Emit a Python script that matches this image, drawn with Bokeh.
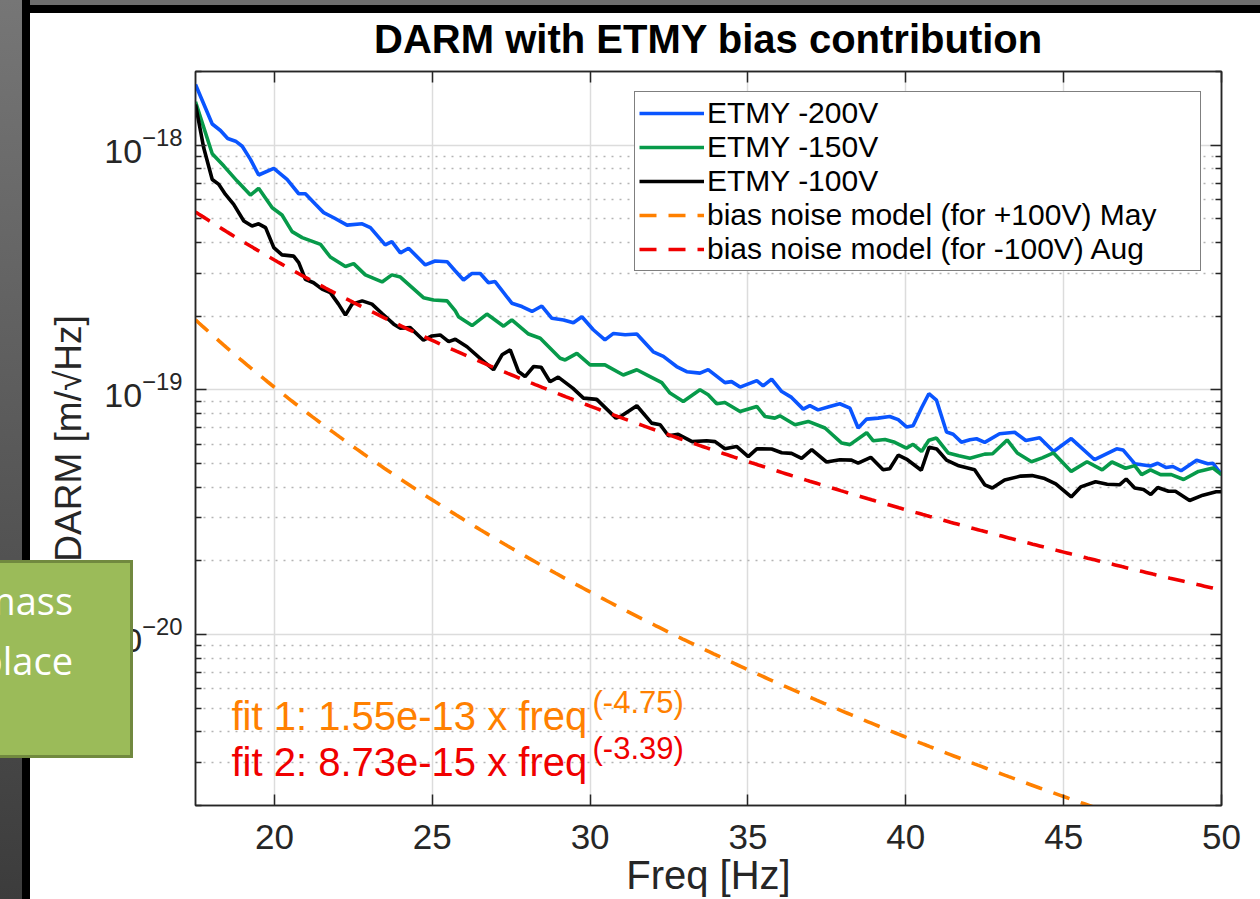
import numpy as np
from bokeh.plotting import figure
from bokeh.layouts import column
from bokeh.models import (Range1d, LinearAxis, LogAxis, FixedTicker, Legend,
                          LegendItem, Label, Div)
from bokeh.embed import file_html
from bokeh.resources import INLINE

# ---------------- data ----------------
TITLE = "DARM with ETMY bias contribution"
X_LABEL = "Freq [Hz]"
Y_LABEL = "DARM [m/\u221aHz]"
X_TICKS = [20, 25, 30, 35, 40, 45, 50]
Y_TICKS = [1e-20, 1e-19, 1e-18]

SERIES_NAMES = ["ETMY -200V", "ETMY -150V", "ETMY -100V",
                "bias noise model (for +100V) May",
                "bias noise model (for -100V) Aug"]

BLUE_F = [17.50, 18.03, 18.29, 18.52, 18.77, 18.98, 19.24, 19.50, 19.98, 20.40,
          20.77, 20.98, 21.30, 21.56, 21.88, 22.30, 22.78, 23.04, 23.51, 23.72,
          23.99, 24.25, 24.78, 25.09, 25.47, 25.73, 25.99, 26.26, 26.52, 26.78,
          26.99, 27.52, 27.84, 28.16, 28.47, 28.79, 29.16, 29.47, 29.74, 30.10,
          30.47, 30.74, 31.11, 31.48, 32.00, 32.32, 32.74, 33.06, 33.48, 33.74,
          34.27, 34.48, 34.75, 35.28, 35.48, 35.75, 36.07, 36.38, 36.75, 36.96,
          37.22, 37.59, 37.91, 38.23, 38.49, 38.76, 39.12, 39.49, 39.76, 40.02,
          40.23, 40.50, 40.73, 40.97, 41.29, 41.50, 41.76, 42.03, 42.24, 42.50,
          42.97, 43.45, 43.80, 44.24, 44.68, 45.24, 45.98, 46.68, 46.88, 47.25,
          47.75, 47.98, 48.25, 48.46, 48.72, 49.21, 49.57, 49.73, 50.00]
BLUE_V = [1.77e-18, 1.22e-18, 1.148e-18, 1.064e-18, 1.038e-18, 9.9e-19, 8.75e-19, 7.55e-19, 8.03e-19, 7.24e-19,
          6.33e-19, 6.33e-19, 5.73e-19, 5.30e-19, 5.05e-19, 4.71e-19, 4.77e-19, 4.60e-19, 3.91e-19, 4.03e-19,
          3.63e-19, 3.79e-19, 3.24e-19, 3.36e-19, 3.34e-19, 3.06e-19, 2.81e-19, 2.99e-19, 2.99e-19, 2.74e-19,
          2.77e-19, 2.26e-19, 2.19e-19, 2.09e-19, 2.20e-19, 1.96e-19, 1.93e-19, 1.88e-19, 1.99e-19, 1.76e-19,
          1.60e-19, 1.70e-19, 1.68e-19, 1.69e-19, 1.43e-19, 1.37e-19, 1.245e-19, 1.186e-19, 1.17e-19, 1.21e-19,
          1.07e-19, 1.08e-19, 1.026e-19, 1.09e-19, 1.038e-19, 1.106e-19, 9.84e-20, 9.31e-20, 8.34e-20, 8.61e-20,
          8.28e-20, 8.55e-20, 8.77e-20, 8.42e-20, 6.98e-20, 7.59e-20, 7.66e-20, 7.78e-20, 7.55e-20, 7.05e-20,
          7.13e-20, 8.45e-20, 9.64e-20, 9.08e-20, 6.72e-20, 6.58e-20, 6.11e-20, 6.25e-20, 6.31e-20, 6.10e-20,
          6.61e-20, 6.71e-20, 6.21e-20, 6.37e-20, 5.60e-20, 6.32e-20, 5.18e-20, 5.74e-20, 5.68e-20, 4.99e-20,
          4.88e-20, 5.01e-20, 4.81e-20, 4.86e-20, 4.67e-20, 5.15e-20, 4.99e-20, 5.01e-20, 4.50e-20]

GREEN_F = [17.50, 18.03, 18.40, 18.82, 19.24, 19.50, 19.93, 20.24, 20.56, 20.88,
           21.46, 21.77, 22.25, 22.51, 22.88, 23.41, 23.72, 23.99, 24.72, 25.04,
           25.47, 25.73, 25.83, 26.26, 26.73, 27.26, 27.52, 28.05, 28.42, 29.05,
           29.21, 29.58, 30.00, 30.47, 31.05, 31.48, 31.90, 32.27, 32.53, 32.95,
           33.48, 33.74, 34.01, 34.27, 34.75, 35.28, 35.54, 35.85, 36.01, 36.49,
           36.91, 37.44, 37.97, 38.23, 38.76, 38.97, 39.34, 39.65, 40.02, 40.23,
           40.50, 40.73, 40.97, 41.34, 41.68, 42.03, 42.50, 42.75, 43.21, 43.53,
           43.98, 44.32, 44.68, 45.24, 45.74, 46.22, 46.53, 46.96, 47.25, 47.47,
           47.75, 48.07, 48.41, 48.80, 49.27, 49.73, 50.00]
GREEN_V = [1.503e-18, 9.22e-19, 8.21e-19, 7.13e-19, 6.25e-19, 6.66e-19, 5.55e-19, 5.18e-19, 4.43e-19, 4.19e-19,
           3.93e-19, 3.49e-19, 3.19e-19, 3.28e-19, 2.95e-19, 2.76e-19, 2.95e-19, 2.89e-19, 2.38e-19, 2.33e-19,
           2.31e-19, 2.10e-19, 1.99e-19, 1.83e-19, 2.04e-19, 1.82e-19, 1.93e-19, 1.69e-19, 1.625e-19, 1.346e-19,
           1.325e-19, 1.41e-19, 1.265e-19, 1.265e-19, 1.15e-19, 1.208e-19, 1.133e-19, 1.07e-19, 9.70e-20, 8.96e-20,
           1.00e-19, 9.55e-20, 8.77e-20, 8.87e-20, 8.15e-20, 8.55e-20, 7.78e-20, 7.66e-20, 7.83e-20, 7.20e-20,
           7.43e-20, 6.98e-20, 6.06e-20, 5.97e-20, 6.68e-20, 6.19e-20, 6.27e-20, 6.10e-20, 5.78e-20, 5.99e-20,
           5.60e-20, 6.22e-20, 6.35e-20, 5.52e-20, 5.38e-20, 5.25e-20, 5.46e-20, 5.48e-20, 6.24e-20, 5.52e-20,
           5.08e-20, 5.27e-20, 5.52e-20, 4.64e-20, 5.08e-20, 4.71e-20, 5.07e-20, 4.78e-20, 4.90e-20, 4.50e-20,
           4.71e-20, 4.50e-20, 4.50e-20, 4.30e-20, 4.64e-20, 4.79e-20, 4.50e-20]

BLACK_F = [17.50, 17.76, 18.03, 18.24, 18.45, 18.71, 19.03, 19.29, 19.50, 19.72,
           19.98, 20.24, 20.61, 20.77, 20.98, 21.24, 21.51, 21.77, 22.03, 22.25,
           22.46, 22.78, 23.09, 23.41, 23.78, 23.99, 24.30, 24.72, 24.99, 25.25,
           25.52, 25.73, 26.10, 26.57, 26.94, 27.21, 27.47, 27.73, 27.94, 28.21,
           28.45, 28.73, 28.99, 29.45, 29.79, 30.21, 30.82, 31.00, 31.48, 31.95,
           32.22, 32.48, 32.79, 33.23, 33.69, 33.96, 34.27, 34.64, 35.01, 35.28,
           35.75, 36.07, 36.38, 36.70, 37.02, 37.49, 37.91, 38.28, 38.49, 38.89,
           39.28, 39.49, 39.76, 40.05, 40.49, 40.74, 40.98, 41.29, 41.68, 42.18,
           42.50, 42.74, 43.13, 43.64, 44.00, 44.40, 44.75, 45.24, 45.54, 46.01,
           46.38, 46.77, 46.98, 47.25, 47.53, 47.76, 47.98, 48.32, 48.54, 48.99,
           49.41, 49.83, 50.00]
BLACK_V = [1.466e-18, 9.75e-19, 7.24e-19, 6.91e-19, 6.29e-19, 5.73e-19, 4.90e-19, 4.67e-19, 4.77e-19, 4.60e-19,
           3.81e-19, 3.56e-19, 3.52e-19, 3.31e-19, 2.83e-19, 2.74e-19, 2.58e-19, 2.495e-19, 2.24e-19, 2.02e-19,
           2.24e-19, 2.31e-19, 2.24e-19, 2.05e-19, 1.855e-19, 1.786e-19, 1.795e-19, 1.595e-19, 1.66e-19, 1.676e-19,
           1.574e-19, 1.61e-19, 1.50e-19, 1.325e-19, 1.208e-19, 1.39e-19, 1.456e-19, 1.188e-19, 1.133e-19, 1.245e-19,
           1.236e-19, 1.079e-19, 1.127e-19, 1.016e-19, 9.25e-20, 9.14e-20, 7.66e-20, 7.83e-20, 8.61e-20, 7.31e-20,
           7.20e-20, 6.49e-20, 6.58e-20, 6.14e-20, 6.19e-20, 6.14e-20, 5.74e-20, 5.87e-20, 5.33e-20, 5.74e-20,
           5.73e-20, 5.53e-20, 5.50e-20, 5.25e-20, 5.69e-20, 5.07e-20, 5.18e-20, 5.16e-20, 5.02e-20, 5.30e-20,
           4.71e-20, 4.76e-20, 5.41e-20, 5.18e-20, 4.69e-20, 5.83e-20, 5.73e-20, 5.16e-20, 4.89e-20, 4.71e-20,
           4.09e-20, 3.97e-20, 4.28e-20, 4.44e-20, 4.46e-20, 4.34e-20, 4.13e-20, 3.65e-20, 4.01e-20, 4.21e-20,
           4.11e-20, 4.09e-20, 4.32e-20, 3.97e-20, 3.91e-20, 3.73e-20, 3.99e-20, 3.85e-20, 3.85e-20, 3.53e-20,
           3.71e-20, 3.83e-20, 3.83e-20]

# fit models exactly as printed on the chart: coef * freq**exponent
FIT1_COEF, FIT1_EXP = 1.55e-13, -4.75
FIT2_COEF, FIT2_EXP = 8.73e-15, -3.39
FIT1_TEXT, FIT1_SUP = "fit 1: 1.55e-13 x freq", "(-4.75)"
FIT2_TEXT, FIT2_SUP = "fit 2: 8.73e-15 x freq", "(-3.39)"

BOX_LINES = ["mass", "place"]

# ---------------- style / layout ----------------
W, H = 1260, 899
FL, FR, FT, FB = 195, 1221, 71, 806      # frame edges (canvas px)
FONT = "Liberation Sans"
AX = "#262626"
C_BLUE, C_GREEN, C_BLACK = "#0a55ff", "#079a4a", "#000000"
C_ORANGE, C_RED = "#ff8000", "#f00000"


def sx(X):  # canvas x -> screen units of annotations
    return X - FL


def sy(Y):  # canvas y -> screen units of annotations (measured up from frame bottom)
    return FB - Y


# slide chrome (grey strip + black frame) painted as the page background
CHROME = ("linear-gradient(#767676, #3c3c3c) 0 0 / 22px 100% no-repeat, "
          "linear-gradient(#000, #000) 22px 0 / 8px 100% no-repeat, "
          "linear-gradient(#6e6e6e, #6e6e6e) 0 0 / 100% 5px no-repeat, "
          "linear-gradient(#000, #000) 0 5px / 100% 8px no-repeat, #ffffff")

p = figure(width=W, height=H, y_axis_type="log",
           x_range=Range1d(17.5, 50), y_range=Range1d(2e-21, 2e-18),
           output_backend="svg", toolbar_location=None,
           min_border_left=FL, min_border_right=W - FR,
           min_border_top=FT, min_border_bottom=H - FB,
           title=TITLE, styles={"background": CHROME})
p.background_fill_color = "white"
p.border_fill_color = None
p.outline_line_color = AX
p.outline_line_width = 1.5

p.title.align = "center"
p.title.text_font = FONT
p.title.text_font_size = "40px"
p.title.text_font_style = "bold"
p.title.text_color = "black"
p.title.standoff = 21

minor_y = [m * 10.0 ** e for e in (-21, -20, -19, -18) for m in range(2, 10)
           if 2e-21 <= m * 10.0 ** e <= 2e-18]


def style_axis(ax, labels=True):
    ax.axis_line_color = AX
    ax.axis_line_width = 1.5
    ax.major_tick_line_color = AX
    ax.major_tick_line_width = 1.5
    ax.minor_tick_line_color = AX
    ax.minor_tick_line_width = 1.5
    ax.major_tick_in = 11
    ax.major_tick_out = 0
    ax.minor_tick_in = 6
    ax.minor_tick_out = 0
    ax.major_label_text_font = FONT
    ax.major_label_text_color = AX
    ax.axis_label_text_font = FONT
    ax.axis_label_text_color = AX
    ax.axis_label_text_font_style = "normal"
    if not labels:
        ax.major_label_text_font_size = "8px"
        ax.major_label_text_color = None
        ax.major_label_standoff = 0


xax = p.xaxis[0]
xax.ticker = FixedTicker(ticks=X_TICKS)
style_axis(xax)
xax.major_label_text_font_size = "35px"
xax.major_label_standoff = 19
xax.axis_label = X_LABEL
xax.axis_label_text_font_size = "40px"
xax.axis_label_standoff = 1

yax = p.yaxis[0]
yax.ticker = FixedTicker(ticks=Y_TICKS, minor_ticks=minor_y)
style_axis(yax)
yax.major_label_text_font_size = "34px"
yax.major_label_standoff = 13
yax.axis_label = Y_LABEL
yax.axis_label_text_font_size = "37px"
yax.axis_label_standoff = 12

top_ax = LinearAxis(ticker=FixedTicker(ticks=X_TICKS))
style_axis(top_ax, labels=False)
p.add_layout(top_ax, "above")
right_ax = LogAxis(ticker=FixedTicker(ticks=Y_TICKS, minor_ticks=minor_y))
style_axis(right_ax, labels=False)
p.add_layout(right_ax, "right")

p.xgrid.grid_line_color = "#dcdcdc"
p.xgrid.grid_line_width = 1.5
p.ygrid.grid_line_color = "#dcdcdc"
p.ygrid.grid_line_width = 1.5
p.ygrid.minor_grid_line_color = "#b4b4b4"
p.ygrid.minor_grid_line_width = 1.5
p.ygrid.minor_grid_line_dash = "2 6"

# ---------------- lines ----------------
LW = 3.6
model_f = np.linspace(17.5, 50, 300)
r_blue = p.line(BLUE_F, BLUE_V, line_color=C_BLUE, line_width=LW)
r_green = p.line(GREEN_F, GREEN_V, line_color=C_GREEN, line_width=LW)
r_black = p.line(BLACK_F, BLACK_V, line_color=C_BLACK, line_width=LW)
r_fit1 = p.line(model_f, FIT1_COEF * model_f ** FIT1_EXP, line_color=C_ORANGE,
                line_width=LW, line_dash="17 12")
r_fit2 = p.line(model_f, FIT2_COEF * model_f ** FIT2_EXP, line_color=C_RED,
                line_width=LW, line_dash="17 12")

legend = Legend(items=[LegendItem(label=n, renderers=[r]) for n, r in
                       zip(SERIES_NAMES, [r_blue, r_green, r_black, r_fit1, r_fit2])],
                location=(439, 534))
legend.border_line_color = "black"
legend.border_line_width = 1.5
legend.background_fill_color = "white"
legend.background_fill_alpha = 1.0
legend.label_text_font = FONT
legend.label_text_font_size = "30px"
legend.label_text_color = "black"
legend.glyph_width = 65
legend.glyph_height = 28
legend.label_height = 28
legend.label_width = 489
legend.label_standoff = 3
legend.spacing = 0
legend.padding = 4
legend.margin = 0
p.add_layout(legend)

# ---------------- text annotations ----------------
for txt, sup, col, base in [(FIT1_TEXT, FIT1_SUP, C_ORANGE, 716),
                            (FIT2_TEXT, FIT2_SUP, C_RED, 762)]:
    p.add_layout(Label(x=sx(231), y=sy(base), x_units="screen", y_units="screen",
                       text=txt, text_font=FONT, text_font_size="40px",
                       text_color=col, text_baseline="alphabetic", text_align="left"))
    p.add_layout(Label(x=sx(592), y=sy(base - 13), x_units="screen", y_units="screen",
                       text=sup, text_font=FONT, text_font_size="31px",
                       text_color=col, text_baseline="alphabetic", text_align="left"))

# green call-out box of the slide, lying over the left edge of the chart
box = Div(text="<br>".join(BOX_LINES), width=193, height=198,
          styles={"position": "absolute", "left": "-60px", "top": "560px",
                  "z-index": "10", "box-sizing": "border-box",
                  "width": "193px", "height": "198px",
                  "background": "#9bbb59", "border": "3px solid #71893f",
                  "color": "white", "font-family": "'Open Sans'",
                  "font-size": "38px", "line-height": "60px",
                  "text-align": "right", "padding": "7px 57px 0 0",
                  "overflow": "hidden", "margin": "0"})

layout = column(p, box)
open("out.html", "w").write(file_html(layout, INLINE))
